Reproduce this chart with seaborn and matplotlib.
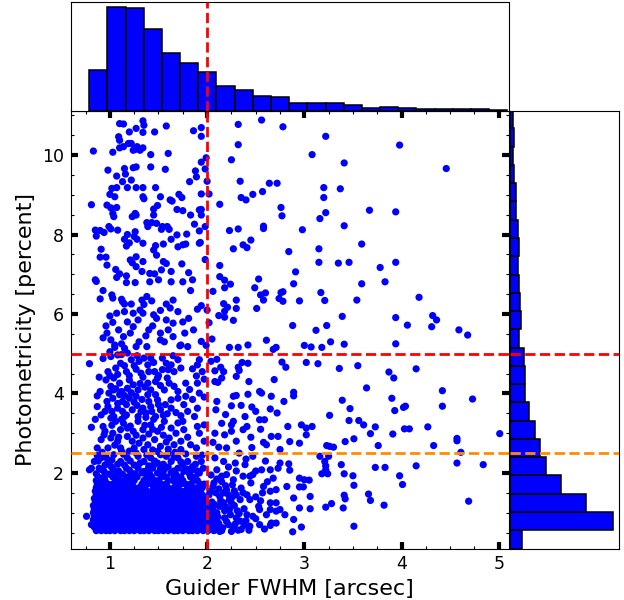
import matplotlib
matplotlib.use("Agg")
import numpy as np
import pandas as pd
import matplotlib.pyplot as plt
import seaborn as sns
from matplotlib.ticker import MultipleLocator

# ---------------- data ----------------
# sparse points, upper-left (FWHM < 1.93, photometricity > 5.1)
upper_left = [
    (1.10,10.79),(1.14,10.78),(1.20,10.58),(1.27,10.67),(1.34,10.86),(1.35,10.75),(1.34,10.57),(1.58,10.73),
    (1.46,10.58),(1.86,10.61),(1.09,10.46),(1.10,10.37),(1.22,10.29),(1.19,10.29),(1.14,10.21),(1.10,10.18),
    (1.28,10.21),(1.26,10.14),(1.31,10.12),(1.34,10.18),(0.83,10.10),(1.03,10.07),(1.24,10.12),(1.60,10.04),
    (1.42,10.01),(1.42,9.70),(1.24,9.68),(1.27,9.70),(1.15,9.66),(1.16,9.52),(0.98,9.62),(1.07,9.47),
    (1.13,9.33),(1.22,9.37),(1.57,9.64),(1.88,9.60),(1.89,9.45),(1.82,9.33),(1.02,9.16),(1.07,9.18),
    (1.18,9.18),(1.27,9.18),(1.34,9.18),(1.47,9.18),(1.00,9.01),(1.05,8.95),(1.34,8.95),(1.35,8.90),
    (1.52,8.95),(1.62,8.87),(1.64,8.84),(1.71,9.01),(1.74,8.93),(0.81,8.75),(0.97,8.74),(1.01,8.67),
    (1.07,8.68),(1.03,8.53),(1.04,8.45),(1.26,8.53),(1.27,8.49),(1.23,8.45),(1.45,8.64),(1.49,8.73),
    (1.45,8.49),(1.69,8.63),(1.75,8.60),(1.83,8.49),(1.92,8.62),(0.85,8.11),(0.90,8.10),(0.86,7.96),
    (0.94,8.05),(0.99,8.20),(1.01,8.14),(1.08,8.11),(1.18,8.00),(1.26,8.07),(1.25,7.95),(1.15,7.88),
    (1.20,7.79),(1.17,7.71),(1.28,7.88),(1.34,7.78),(1.39,8.20),(1.38,8.30),(1.43,8.30),(1.48,8.28),
    (1.54,8.20),(1.59,8.20),(1.53,8.13),(1.61,8.13),(1.47,7.72),(1.45,7.61),(1.55,7.76),(1.48,7.48),
    (1.70,7.69),(1.75,7.74),(1.78,7.76),(1.79,8.01),(1.87,8.26),(1.92,8.09),(1.92,7.78),(1.63,7.88),
    (1.69,7.99),(0.91,7.63),(0.90,7.43),(0.96,7.43),(0.97,7.23),(1.06,7.12),(1.10,7.01),(1.21,7.36),
    (1.23,7.29),(1.27,7.44),(1.34,7.32),(1.27,7.19),(1.33,7.07),(1.41,7.02),(1.46,7.01),(1.55,7.32),
    (1.58,7.27),(1.53,7.11),(1.63,7.07),(1.74,7.26),(1.81,7.04),(1.17,6.96),(1.17,6.79),(1.26,6.79),
    (0.85,6.86),(0.86,6.82),(1.07,6.92),(1.41,6.81),(1.50,6.86),(1.63,6.81),(1.75,6.81),(1.85,6.86),
    (0.90,6.38),(0.93,6.59),(1.02,6.48),(1.03,6.40),(1.12,6.37),(1.13,6.31),(1.15,6.25),(1.22,6.25),
    (1.33,6.35),(1.35,6.24),(1.38,6.44),(1.43,6.33),(1.31,6.10),(1.15,6.06),(1.07,6.02),(1.24,6.02),
    (1.34,6.02),(1.45,5.98),(1.48,5.89),(1.52,6.09),(1.58,6.25),(1.65,6.35),(1.70,6.06),(1.83,6.59),
    (1.81,5.89),(0.96,5.70),(0.97,5.52),(1.03,5.79),(1.09,5.60),(1.14,5.43),(1.21,5.52),(1.29,5.85),
    (1.24,5.68),(1.37,5.45),(1.44,5.70),(1.52,5.52),(1.58,5.85),(1.60,5.60),(1.65,5.77),(1.72,5.20),
    (1.77,5.52),(1.86,5.60),(1.01,5.35),(1.05,5.16),(1.27,5.18),(1.38,5.18),(1.52,5.35),(1.65,5.43),
    (1.00,5.95),(1.18,5.80),(1.40,5.60),(1.56,5.30),(1.12,5.25),(0.93,5.40),(1.30,5.30),(1.75,5.80),
    (1.62,6.15),(1.90,6.12),
]

# sparse points, upper-right (FWHM >= 1.93, photometricity > 5.1)
upper_right = [
    (2.32,10.77),(2.56,10.88),(2.78,10.71),(3.22,10.47),(2.32,10.26),(3.98,10.25),(3.08,10.01),(2.25,9.88),
    (3.41,9.80),(4.46,9.66),(2.34,9.34),(2.64,9.29),(2.72,9.29),(3.20,9.18),(3.37,9.15),(2.57,9.08),
    (2.47,9.01),(2.35,8.93),(2.40,8.87),(3.20,8.93),(2.13,8.76),(2.76,8.68),(3.67,8.61),(3.94,8.57),
    (3.22,8.55),(2.77,8.47),(3.16,8.40),(2.58,8.21),(2.58,8.15),(2.32,8.14),(2.23,8.10),(2.98,8.12),
    (3.41,8.22),(2.45,7.86),(2.37,7.74),(2.41,7.67),(2.27,7.64),(3.59,7.76),(3.15,7.64),(2.84,7.57),
    (3.15,7.30),(3.35,7.28),(3.46,7.30),(3.94,7.30),(2.13,7.22),(3.78,7.17),(2.91,7.06),(2.13,6.94),
    (2.53,6.88),(2.18,6.85),(2.24,6.75),(3.59,6.76),(3.83,6.81),(2.89,6.76),(2.18,6.66),(2.49,6.66),
    (2.06,6.57),(2.55,6.48),(2.60,6.53),(2.76,6.54),(2.78,6.56),(3.17,6.54),(4.18,6.42),(2.30,6.35),
    (2.58,6.35),(2.74,6.39),(2.78,6.32),(2.95,6.33),(3.21,6.34),(3.54,6.35),(2.17,6.26),(2.21,6.17),
    (2.30,6.14),(2.51,6.14),(2.18,6.07),(2.12,5.96),(2.18,5.92),(2.27,5.84),(3.39,5.94),(3.94,5.91),
    (4.32,5.96),(4.36,5.85),(2.88,5.71),(3.23,5.71),(4.06,5.72),(4.31,5.68),(3.12,5.59),(4.59,5.60),
    (4.68,5.47),(2.05,5.37),(2.61,5.34),(3.27,5.30),(2.42,5.22),(2.23,5.16),(2.32,5.16),(2.71,5.16),
    (3.00,5.21),(3.07,5.17),(3.18,5.16),(3.41,5.24),(3.94,5.25),(1.99,5.21),(2.68,5.11),
    (1.94,10.69),(1.94,10.47),(1.99,9.93),(1.94,9.82),(1.98,9.65),(2.00,9.34),(1.94,9.02),(2.02,9.02),
    (1.94,8.63),(1.94,8.49),(1.98,8.20),(1.93,7.80),(1.98,7.37),(1.94,6.21),(2.00,6.10),(2.02,5.78),
]

# middle band, left of FWHM = 2 (2.5 .. 5.1 percent)
mid_left = [
    (0.79,4.75),(1.01,4.93),(1.08,4.97),(1.11,4.76),(1.22,4.85),(1.30,4.81),(1.35,4.89),(1.42,4.89),
    (1.54,4.89),(1.58,4.76),(1.63,4.72),(1.70,4.85),(1.90,4.72),(1.92,4.85),(1.39,4.72),(1.06,4.64),
    (0.98,4.55),(1.17,4.55),(1.27,4.61),(1.32,4.51),(1.46,4.55),(1.54,4.60),(1.66,4.55),(1.73,4.64),
    (1.89,4.44),(1.95,4.55),(0.89,4.41),(0.96,4.34),(1.04,4.39),(1.10,4.26),(1.20,4.34),(1.34,4.41),
    (1.39,4.26),(1.47,4.30),(1.49,4.39),(1.59,4.39),(1.61,4.26),(1.66,4.18),(1.78,4.26),(1.90,4.26),
    (1.97,4.36),(1.01,4.18),(1.04,4.09),(1.18,4.13),(1.29,4.09),(1.42,4.09),(1.56,4.09),(0.99,4.01),
    (1.10,3.97),(0.87,3.94),(1.03,3.88),(1.13,3.80),(1.20,3.88),(1.27,3.93),(1.39,3.97),(1.47,3.97),
    (1.49,3.84),(1.63,3.84),(1.70,3.88),(1.78,3.93),(1.92,4.01),(1.97,3.91),(0.87,3.67),(0.98,3.67),
    (1.08,3.63),(1.17,3.72),(1.23,3.59),(1.34,3.63),(1.42,3.67),(1.52,3.59),(1.63,3.63),(1.76,3.72),
    (1.80,3.55),(1.90,3.63),(0.91,3.46),(1.04,3.42),(1.17,3.46),(1.29,3.42),(1.37,3.51),(1.47,3.42),
    (1.59,3.49),(1.73,3.44),(1.87,3.42),(1.05,5.22),(1.15,5.14),(1.73,5.22),(1.80,5.18),(1.94,5.31),
    (1.00,5.05),(1.12,4.98),(1.25,4.70),(1.45,4.78),(1.20,4.45),(1.08,4.48),(1.36,4.16),(1.24,4.22),
    (1.12,4.05),(1.52,4.20),(1.33,3.85),(1.08,3.75),(1.25,3.78),(1.57,3.72),(1.68,3.52),(0.95,3.55),
    (1.13,3.55),(1.40,3.80),(1.82,4.10),(1.85,4.62),
    (0.81,3.15),(0.93,3.17),(1.01,3.38),(1.06,3.30),(1.15,3.42),(1.11,3.09),(1.18,3.13),(1.29,3.30),
    (1.34,3.09),(1.42,3.21),(1.49,3.05),(1.56,3.30),(1.63,3.13),(1.70,3.26),(1.76,3.09),(1.90,3.17),
    (1.92,3.00),(1.97,3.21),(0.91,2.84),(0.94,2.96),(1.01,2.88),(1.08,2.80),(1.18,2.92),(1.23,2.80),
    (1.34,2.88),(1.39,2.71),(1.46,2.84),(1.52,2.67),(1.61,2.88),(1.66,2.71),(1.73,2.80),(1.83,2.71),
    (1.89,2.63),(1.97,2.80),(0.87,2.63),(0.98,2.63),(1.11,2.63),(1.25,2.63),(1.35,2.59),(1.49,2.54),
    (1.73,2.59),(1.02,3.20),(1.24,3.05),(1.40,2.98),(1.55,2.95),(1.80,2.90),(1.05,2.70),(1.30,2.75),
    (1.60,2.60),(0.95,3.05),(1.45,3.35),
    (0.97,3.80),(1.02,3.55),(1.06,4.12),(1.15,3.95),(1.22,4.02),(1.28,3.70),(1.31,4.25),(1.37,3.40),
    (1.43,3.55),(1.50,3.72),(1.55,3.45),(1.03,3.00),(1.09,2.90),(1.14,3.25),(1.21,3.18),(1.27,2.95),
    (1.36,3.20),(1.44,3.10),(1.53,3.15),(1.58,2.78),(1.68,3.00),(1.20,2.55),(1.00,4.45),(1.15,4.70),
    (1.28,4.95),(1.40,4.55),(1.50,4.45),(1.60,4.60),(1.18,5.02),(0.93,4.88),(1.12,3.35),(1.32,3.55),
    (0.85,3.35),(0.90,4.05),(1.70,4.05),(1.75,3.30),(1.85,3.85),(1.65,4.95),
]

# band just above the dense core, left of FWHM = 2 (1.9 .. 2.6 percent)
low_left = [
    (0.81,2.12),(0.84,2.29),(0.91,2.38),(0.98,2.29),(1.04,2.46),(1.11,2.29),(1.18,2.38),(1.29,2.42),
    (1.35,2.29),(1.42,2.38),(1.49,2.25),(1.58,2.42),(1.63,2.29),(1.70,2.38),(1.80,2.29),(1.89,2.42),
    (1.94,2.29),(0.89,2.12),(0.94,2.04),(1.01,2.17),(1.06,2.00),(1.17,2.12),(1.22,2.00),(1.29,2.12),
    (1.35,2.04),(1.44,2.12),(1.49,2.00),(1.56,2.08),(1.63,2.00),(1.70,2.12),(1.76,2.04),(1.85,2.08),
    (1.92,2.00),(0.79,2.08),(0.76,0.91),(0.81,0.70),(0.95,2.20),(1.08,2.22),(1.25,2.20),(1.40,2.18),
    (1.55,2.22),(1.75,2.20),(1.14,2.47),(1.52,2.46),(1.85,2.16),(0.87,2.44),
    (0.86,1.98),(0.92,2.08),(0.99,1.97),(1.03,2.10),(1.09,2.05),(1.13,1.97),(1.15,2.20),(1.20,2.07),
    (1.26,1.98),(1.31,2.25),(1.33,2.00),(1.39,2.08),(1.41,1.97),(1.46,2.30),(1.52,2.12),(1.54,2.00),
    (1.60,2.15),(1.66,2.05),(1.68,1.96),(1.73,2.28),(1.79,2.10),(1.82,1.97),(1.88,2.22),(1.90,2.05),
    (1.96,2.12),(0.88,2.30),(0.96,2.40),(1.02,2.33),(1.21,2.30),(1.27,2.50),(1.38,2.45),(1.45,2.20),
    (1.60,2.50),(1.66,2.40),(1.78,2.48),(1.95,2.45),(1.12,2.55),(0.92,2.52),(1.44,2.58),(1.67,2.52),
]

# dense core: rows of photometricity with the FWHM values along each row
dense_rows = [
    (0.55, [0.86,0.91,0.96,1.00,1.05,1.11,1.15,1.20,1.25,1.31,1.35,1.40,1.46,1.50,1.55,1.60,1.66,1.70,1.75,1.81,1.85,1.90,1.96,2.01,2.07]),
    (0.64, [0.84,0.88,0.94,0.98,1.03,1.08,1.13,1.18,1.23,1.28,1.33,1.38,1.43,1.48,1.53,1.58,1.63,1.68,1.73,1.78,1.83,1.88,1.93,1.98,2.03,2.09]),
    (0.73, [0.86,0.90,0.96,1.01,1.06,1.10,1.15,1.21,1.25,1.30,1.36,1.40,1.45,1.51,1.55,1.60,1.65,1.71,1.75,1.80,1.86,1.90,1.95,2.00,2.06]),
    (0.82, [0.83,0.89,0.93,0.98,1.03,1.08,1.12,1.18,1.23,1.27,1.33,1.38,1.42,1.48,1.53,1.57,1.63,1.68,1.72,1.78,1.83,1.87,1.93,1.98,2.04,2.10]),
    (0.91, [0.84,0.90,0.95,1.00,1.05,1.10,1.16,1.20,1.25,1.30,1.35,1.41,1.45,1.50,1.55,1.61,1.65,1.70,1.76,1.80,1.85,1.91,1.96,2.01,2.07]),
    (1.00, [0.83,0.87,0.93,0.97,1.03,1.07,1.13,1.18,1.22,1.28,1.32,1.38,1.43,1.47,1.53,1.58,1.62,1.68,1.73,1.77,1.83,1.88,1.92,1.98,2.03]),
    (1.09, [0.84,0.89,0.95,1.00,1.04,1.10,1.15,1.19,1.25,1.30,1.34,1.40,1.45,1.50,1.54,1.60,1.65,1.70,1.74,1.80,1.85,1.89,1.95,2.00,2.06]),
    (1.18, [0.83,0.87,0.92,0.98,1.02,1.07,1.12,1.17,1.22,1.27,1.32,1.37,1.42,1.47,1.52,1.58,1.62,1.67,1.72,1.77,1.82,1.87,1.92,1.97,2.02]),
    (1.27, [0.85,0.90,0.94,1.00,1.05,1.09,1.15,1.20,1.24,1.30,1.35,1.39,1.45,1.50,1.55,1.59,1.65,1.70,1.75,1.79,1.85,1.90,1.95,1.99,2.05]),
    (1.36, [0.84,0.88,0.93,0.97,1.03,1.08,1.12,1.17,1.23,1.27,1.32,1.38,1.42,1.48,1.53,1.57,1.63,1.68,1.72,1.78,1.83,1.87,1.93,1.98]),
    (1.45, [0.86,0.90,0.95,1.00,1.05,1.10,1.14,1.20,1.25,1.29,1.35,1.40,1.44,1.50,1.55,1.60,1.64,1.70,1.75,1.79,1.85,1.90,1.95,2.02]),
    (1.54, [0.85,0.88,0.93,0.98,1.02,1.08,1.13,1.17,1.23,1.28,1.32,1.38,1.43,1.47,1.53,1.58,1.62,1.68,1.73,1.77,1.83,1.88,1.93,2.03]),
    (1.63, [0.86,0.90,0.96,1.00,1.05,1.11,1.15,1.21,1.25,1.30,1.36,1.45,1.50,1.55,1.60,1.66,1.70,1.80,1.86,1.90,1.95]),
    (1.72, [0.87,0.92,0.98,1.03,1.08,1.13,1.18,1.23,1.33,1.38,1.43,1.48,1.53,1.58,1.68,1.73,1.78,1.83,1.93,1.97]),
    (1.81, [0.86,0.90,0.95,1.06,1.10,1.15,1.20,1.25,1.35,1.40,1.46,1.50,1.60,1.65,1.71,1.75,1.86,1.90]),
    (1.90, [0.88,0.94,1.03,1.08,1.18,1.23,1.28,1.38,1.43,1.53,1.58,1.66,1.73,1.83,1.88]),
]

# right of FWHM = 2, below 5 percent, up to FWHM ~ 3
near_right = [
    (2.25,3.69),(2.46,3.66),(2.65,3.61),(2.09,3.59),(2.19,3.47),(2.39,3.42),(2.27,3.30),(2.25,3.21),
    (2.54,3.34),(2.59,3.34),(2.72,3.51),(2.83,3.17),(2.97,3.21),(3.02,3.13),(2.37,3.09),(2.41,3.17),
    (2.18,2.96),(2.08,3.00),(2.06,2.77),(2.58,2.77),(2.61,2.71),(2.66,2.92),(2.73,2.92),(2.85,2.79),
    (2.95,2.75),(3.02,2.96),(2.46,2.64),(2.20,2.63),(2.75,2.59),(2.08,2.38),(2.17,2.29),(2.29,2.25),
    (2.39,2.21),(2.47,2.42),(2.56,2.08),(2.65,2.08),(2.73,2.12),(2.75,2.25),(2.85,2.07),(2.10,2.08),
    (2.15,1.92),(2.20,1.96),(2.27,1.83),(2.37,1.92),(2.44,1.92),(2.47,1.96),(2.68,1.87),(2.95,1.87),
    (3.00,1.83),(2.58,1.66),(2.65,1.54),(2.71,1.58),(2.82,1.66),(2.89,1.37),(2.95,1.12),(2.37,1.50),
    (2.41,1.45),(2.34,1.33),(2.44,1.33),(2.53,1.16),(2.54,1.08),(2.65,1.25),(2.71,1.25),(2.75,1.08),
    (2.80,0.95),(2.61,0.95),(2.47,0.91),(2.41,0.95),(2.30,0.87),(2.34,0.79),(2.44,0.66),(2.54,0.70),
    (2.65,0.68),(2.71,0.74),(2.13,0.53),(2.27,0.62),(2.35,0.58),(2.23,1.33),(2.13,1.41),(2.20,1.58),
    (2.06,1.66),(2.13,1.16),(2.23,1.08),(2.10,1.00),(2.18,0.87),(2.05,0.79),(2.08,0.66),(2.22,0.70),
    (2.79,3.80),(2.95,1.65),(2.99,1.65),(2.88,0.52),(2.97,0.64),(2.89,0.83),(2.84,2.23),(2.59,0.59),
    (2.43,0.56),(2.32,0.56),(2.25,0.53),(2.15,0.55),(2.66,0.74),(2.71,1.04),(2.65,1.08),(2.17,1.25),
    (2.28,1.18),(2.38,1.10),(2.30,1.45),(2.26,1.70),(2.35,1.62),(2.15,1.78),(2.45,1.75),(2.50,1.40),
    (2.55,1.30),(2.40,0.80),(2.50,0.85),(2.57,1.50),(2.33,0.98),(2.18,1.05),(2.62,1.78),(2.50,2.05),
    (2.30,2.05),(2.22,2.15),(2.40,2.35),(2.60,2.30),(2.33,2.50),(2.12,2.65),(2.30,2.80),(2.45,2.90),
    (2.25,3.05),(2.55,3.10),(2.15,3.25),(2.50,3.55),(2.35,3.70),(2.10,3.80),
    (2.36,4.78),(2.32,4.66),(2.33,4.58),(2.42,4.76),(2.77,4.79),(2.81,4.66),(3.02,4.78),(2.10,4.86),
    (2.14,4.66),(2.08,4.57),(2.17,4.55),(2.04,4.81),(2.30,4.43),(2.43,4.30),(2.08,4.30),(2.11,4.28),
    (2.15,4.39),(2.69,4.35),(2.54,4.05),(2.56,4.01),(2.42,3.98),(2.30,3.95),(2.27,3.93),(2.66,3.93),
    (2.89,4.03),(2.89,3.94),
    (2.16,0.62),(2.20,0.78),(2.24,0.95),(2.19,1.15),(2.25,1.25),(2.17,1.50),(2.22,1.45),(2.12,1.60),
    (2.19,1.68),(2.28,1.55),(2.10,1.85),(2.07,1.75),(2.31,1.05),(2.29,0.72),(2.38,0.68),(2.26,1.40),
    (2.12,0.73),(2.11,0.90),(2.14,1.30),(2.08,1.20),(2.09,1.50),(2.04,1.95),
]

# far right (FWHM > 3.05, below 5.1 percent)
far_right = [
    (3.14,4.75),(3.36,4.63),(3.55,4.70),(4.15,4.62),(3.87,4.54),(3.92,4.39),(3.64,4.14),(3.39,3.83),
    (3.90,3.88),(4.42,4.07),(4.73,3.86),(3.47,3.62),(4.02,3.65),(4.04,3.68),(3.93,3.57),(4.42,3.68),
    (3.26,3.45),(3.56,3.32),(3.46,3.32),(3.08,3.17),(3.61,3.21),(3.73,3.16),(4.03,3.11),(4.08,3.11),
    (4.27,3.16),(3.91,2.98),(3.68,2.99),(5.01,2.99),(3.42,2.79),(3.51,2.86),(3.76,2.69),(3.23,2.69),
    (3.26,2.67),(3.30,2.65),(4.33,2.69),(4.57,2.87),(4.57,2.81),(4.61,2.52),(3.16,2.42),(3.25,2.42),
    (3.21,2.29),(3.38,2.21),(3.73,2.14),(3.83,2.14),(4.15,2.18),(4.57,2.25),(4.84,2.21),(3.98,1.93),
    (4.01,1.71),(3.50,1.93),(3.41,1.98),(3.18,1.98),(3.24,1.98),(3.22,2.08),(3.22,2.18),(3.05,1.82),
    (3.51,1.69),(3.66,1.47),(3.68,1.31),(3.41,1.44),(3.42,1.35),(3.40,1.12),(3.28,1.23),(3.22,1.14),
    (3.82,1.19),(4.69,1.29),(3.06,1.41),(3.06,1.10),(3.51,0.66),
]

# marginal histogram counts (bar heights)
fwhm_counts = [102, 262, 259, 206, 146, 119, 98, 63, 51, 36, 33, 19, 20, 19, 13, 7, 9, 6, 3, 3, 4, 3, 2]
fwhm_range = (0.787, 5.088)
phot_counts = [36, 310, 227, 155, 109, 90, 77, 59, 47, 46, 43, 29, 33, 32, 27, 24, 29, 25, 20, 19, 14, 10, 12, 10]
phot_range = (0.10, 11.13)

fwhm_cut = 2.0
phot_cut_red = 5.0
phot_cut_orange = 2.5

# ---------------- assemble ----------------
points = upper_left + upper_right + mid_left + low_left + near_right + far_right
for yv, xs in dense_rows:
    points += [(xv, yv) for xv in xs]
df = pd.DataFrame(points, columns=["fwhm", "phot"])

fx_edges = np.linspace(fwhm_range[0], fwhm_range[1], len(fwhm_counts) + 1)
py_edges = np.linspace(phot_range[0], phot_range[1], len(phot_counts) + 1)
hx = pd.DataFrame({"fwhm": 0.5 * (fx_edges[:-1] + fx_edges[1:]), "n": fwhm_counts})
hy = pd.DataFrame({"phot": 0.5 * (py_edges[:-1] + py_edges[1:]), "n": phot_counts})

# ---------------- figure ----------------
plt.rcParams["font.family"] = ["DejaVu Sans"]
W, H = 624, 600
fig = plt.figure(figsize=(W / 100, H / 100), dpi=100)
L, R, B, T = 71, 508.5, 548.5, 110.5
ax = fig.add_axes([L / W, 1 - B / H, (R - L) / W, (B - T) / H])
ax_top = fig.add_axes([L / W, 1 - T / H, (R - L) / W, (T - 1.5) / H])
ax_rt = fig.add_axes([509.5 / W, 1 - B / H, (618.5 - 509.5) / W, (B - T) / H])

XLIM = (0.6, 5.1)
YLIM = (0.1, 11.12)

sns.scatterplot(data=df, x="fwhm", y="phot", ax=ax, color="#0000ff", s=27,
                linewidth=0, edgecolor="none", zorder=2, legend=False)
ax.axvline(fwhm_cut, color="red", ls="--", lw=2, zorder=3)
ax.axhline(phot_cut_red, color="red", ls="--", lw=2, zorder=3)
ax.axhline(phot_cut_orange, color="darkorange", ls="--", lw=2, zorder=3)
ax.set_xlim(*XLIM)
ax.set_ylim(*YLIM)
ax.xaxis.set_major_locator(MultipleLocator(1))
ax.xaxis.set_minor_locator(MultipleLocator(0.25))
ax.yaxis.set_major_locator(MultipleLocator(2))
ax.yaxis.set_minor_locator(MultipleLocator(0.5))
ax.tick_params(which="major", direction="in", length=5, width=3, top=True, right=True,
               labelsize=12.5, pad=5)
ax.tick_params(which="minor", direction="in", length=2.5, width=0.8, top=True, right=True)
ax.set_xlabel("Guider FWHM [arcsec]", fontsize=16)
ax.set_ylabel("Photometricity [percent]", fontsize=16)

sns.histplot(data=hx, x="fwhm", weights="n", bins=list(fx_edges), ax=ax_top,
             color="#0000ff", edgecolor="black", linewidth=1.1, alpha=1)
ax_top.axvline(fwhm_cut, color="red", ls="--", lw=2, zorder=3)
ax_top.set_xlim(*XLIM)
ax_top.set_ylim(0, max(fwhm_counts) * 1.05)
ax_top.set_xticks([])
ax_top.set_yticks([])
ax_top.set_xlabel("")
ax_top.set_ylabel("")

sns.histplot(data=hy, y="phot", weights="n", bins=list(py_edges), ax=ax_rt,
             color="#0000ff", edgecolor="black", linewidth=1.1, alpha=1)
ax_rt.axhline(phot_cut_red, color="red", ls="--", lw=2, zorder=3)
ax_rt.axhline(phot_cut_orange, color="darkorange", ls="--", lw=2, zorder=3)
ax_rt.set_ylim(*YLIM)
ax_rt.set_xlim(0, max(phot_counts) * 1.05)
ax_rt.set_xticks([])
ax_rt.set_yticks([])
ax_rt.set_xlabel("")
ax_rt.set_ylabel("")

fig.savefig("out.png", dpi=100)
